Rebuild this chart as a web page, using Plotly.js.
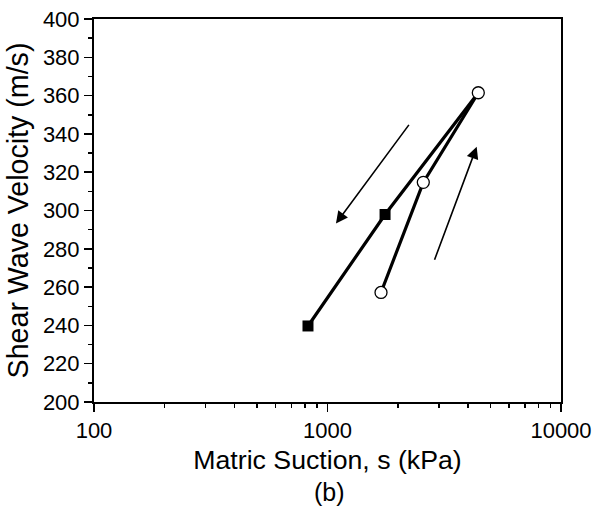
<!DOCTYPE html>
<html>
<head>
<meta charset="utf-8">
<script src="https://cdn.plot.ly/plotly-3.0.1.min.js"></script>
<style>html,body{margin:0;padding:0;background:#fff;}#chart{width:594px;height:508px;}</style>
</head>
<body>
<div id="chart"></div>
<script>
// Drying path (open circles)
const dryingSuction = [1695, 2572, 4424];
const dryingVs = [257.2, 314.7, 361.5];
// Wetting path (filled squares), starting from the peak point
const wettingSuction = [4424, 1764, 825];
const wettingVs = [361.5, 297.9, 239.7];
// Direction arrows: [tailSuction, tailVs, headSuction, headVs]
const arrowWetting = [2256, 345.5, 1087, 293.2];
const arrowDrying = [2858, 273.5, 4355, 333.3];
const xTickVals = [100, 1000, 10000];
const xTickText = ['100', '1000', '10000'];
const xMinorVals = [200, 300, 400, 500, 600, 700, 800, 900, 2000, 3000, 4000, 5000, 6000, 7000, 8000, 9000];

const font = 'Liberation Sans, Arial, Helvetica, sans-serif';
const L = Math.log10;

function arrow(a) {
  return {
    xref: 'x', yref: 'y', axref: 'x', ayref: 'y',
    x: L(a[2]), y: a[3], ax: L(a[0]), ay: a[1],
    text: '', showarrow: true, arrowhead: 2, arrowsize: 1.5, arrowwidth: 1.6,
    arrowcolor: 'black', standoff: 0, startstandoff: 0
  };
}

const traces = [
  { // wetting path line
    x: wettingSuction, y: wettingVs, mode: 'lines', type: 'scatter',
    line: {color: 'black', width: 3.2}, showlegend: false, hoverinfo: 'skip'
  },
  { // drying path line
    x: dryingSuction, y: dryingVs, mode: 'lines', type: 'scatter',
    line: {color: 'black', width: 3.2}, showlegend: false, hoverinfo: 'skip'
  },
  { // wetting markers (squares), peak shown as the drying circle
    x: wettingSuction.slice(1), y: wettingVs.slice(1), mode: 'markers', type: 'scatter',
    marker: {symbol: 'square', size: 11, color: '#000000', opacity: 1, line: {color: '#000000', width: 0}},
    showlegend: false, hoverinfo: 'skip'
  },
  { // drying markers (open circles)
    x: dryingSuction, y: dryingVs, mode: 'markers', type: 'scatter',
    marker: {symbol: 'circle', size: 12, color: '#ffffff', opacity: 1, line: {color: '#000000', width: 1.3}},
    showlegend: false, hoverinfo: 'skip'
  }
];

const layout = {
  width: 594, height: 508,
  margin: {l: 94, r: 33, t: 19, b: 106},
  paper_bgcolor: 'white', plot_bgcolor: 'white',
  font: {family: font, color: 'black'},
  showlegend: false,
  xaxis: {
    type: 'log', range: [2, 4],
    tickvals: xTickVals, ticktext: xTickText,
    ticks: 'outside', ticklen: 8, tickwidth: 1.5, tickcolor: 'black',
    minor: {ticks: 'outside', ticklen: 4, tickwidth: 1.5, tickcolor: 'black', tickvals: xMinorVals},
    showline: true, linecolor: 'black', linewidth: 2, mirror: true,
    showgrid: false, zeroline: false,
    tickfont: {size: 22, family: font, color: 'black'},
    title: {text: 'Matric Suction, s (kPa)', font: {size: 26.7, family: font, color: 'black'}, standoff: 8}
  },
  yaxis: {
    range: [200, 400], dtick: 20, tick0: 200,
    ticks: 'outside', ticklen: 8, tickwidth: 1.5, tickcolor: 'black',
    minor: {ticks: 'outside', ticklen: 4, tickwidth: 1.5, tickcolor: 'black', dtick: 10},
    showline: true, linecolor: 'black', linewidth: 2, mirror: true,
    showgrid: false, zeroline: false,
    tickfont: {size: 22, family: font, color: 'black'},
    title: {text: 'Shear Wave Velocity (m/s)', font: {size: 28.6, family: font, color: 'black'}, standoff: 6}
  },
  annotations: [
    arrow(arrowWetting),
    arrow(arrowDrying),
    {xref: 'paper', yref: 'paper', x: 0.505, y: -0.236, xanchor: 'center', yanchor: 'middle',
     text: '(b)', showarrow: false, font: {size: 25, family: font, color: 'black'}}
  ]
};

Plotly.newPlot('chart', traces, layout, {staticPlot: true, displayModeBar: false});
</script>
</body>
</html>
